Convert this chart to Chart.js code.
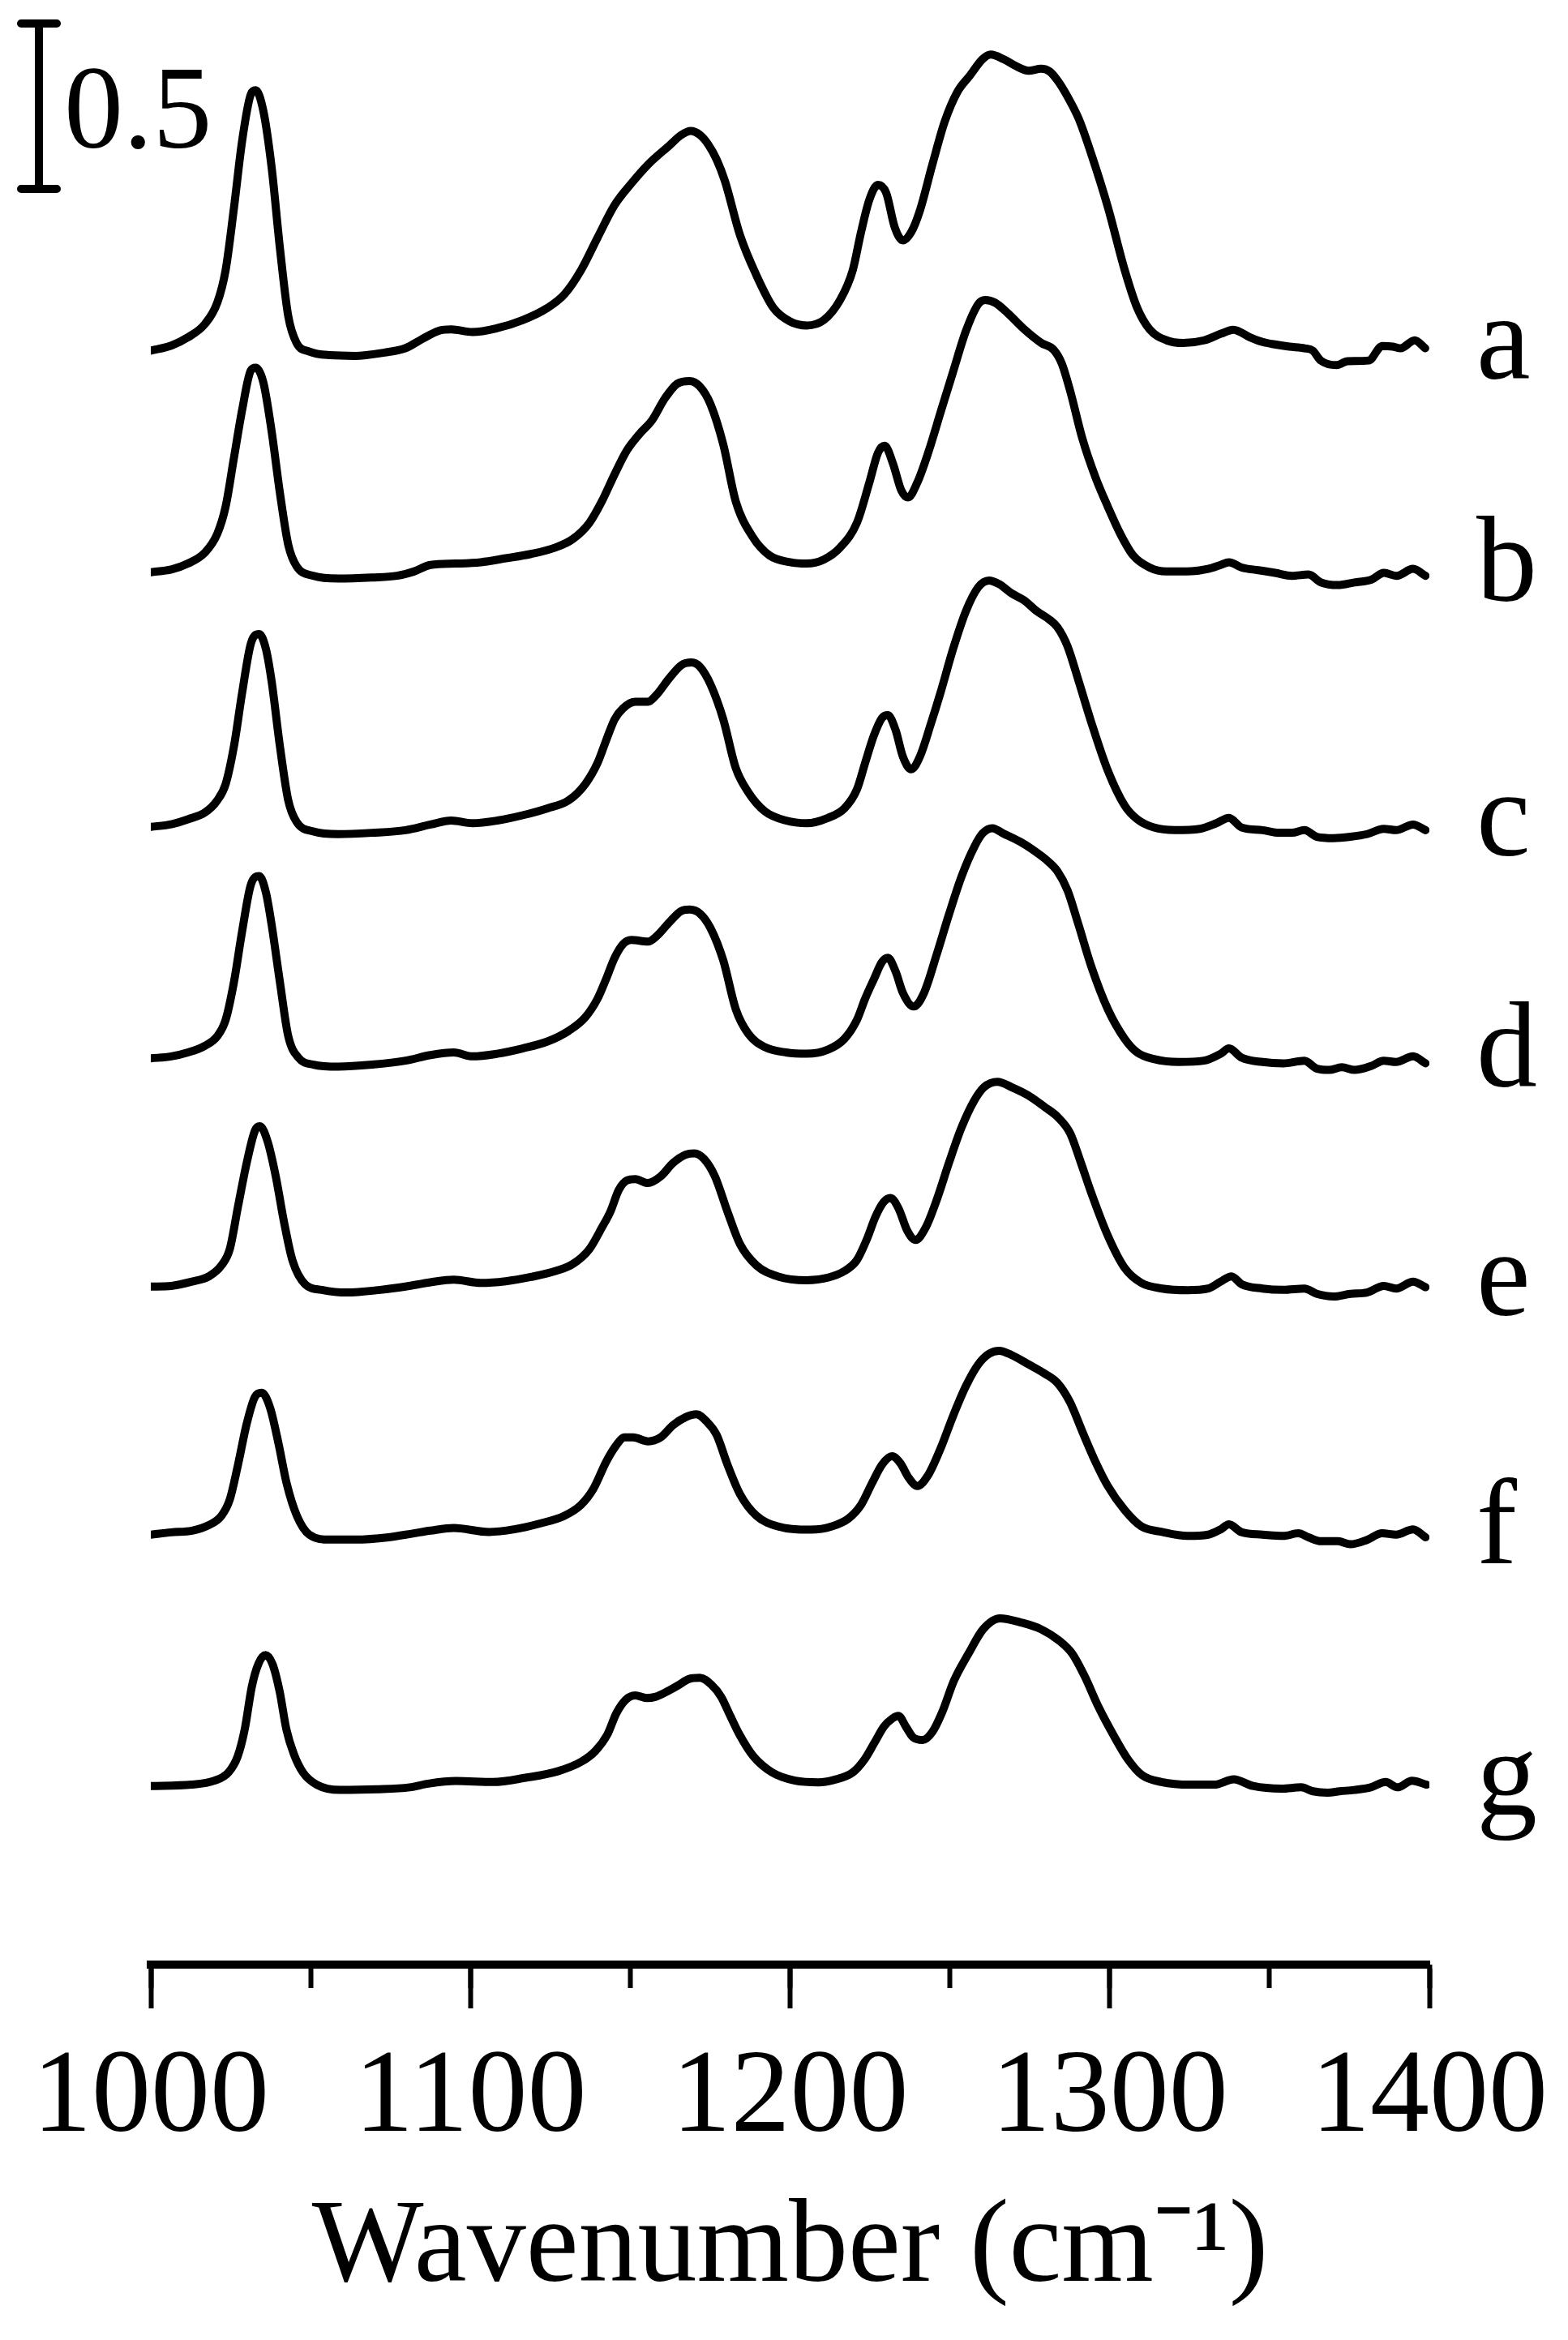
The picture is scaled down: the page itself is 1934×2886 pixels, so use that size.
<!DOCTYPE html>
<html>
<head>
<meta charset="utf-8">
<title>Wavenumber spectra a-g</title>
<script src="https://cdn.jsdelivr.net/npm/chart.js@4.4.1/dist/chart.umd.min.js"></script>
<style>
    html, body { margin: 0; padding: 0; background: #ffffff; }
    #chartBox { width: 1934px; height: 2886px; }
</style>
</head>
<body>
<div id="chartBox"><canvas id="chartCanvas"></canvas></div>
<script>
"use strict";

// Spectrum names, top to bottom
const spectrumLabels = ["a", "b", "c", "d", "e", "f", "g"];

// Stacking offsets (absorbance) for each spectrum
const spectrumOffsets = [4.88, 4.21, 3.44, 2.74, 2.05, 1.30, 0.54];

// Axis ticks
const majorTicks = [1000, 1100, 1200, 1300, 1400];
const minorTicks = [1000, 1050, 1100, 1150, 1200, 1250, 1300, 1350, 1400];

// Scale bar (absorbance units)
const scaleBarValue = 0.5;

// [wavenumber, absorbance]
const spectrumA = [
    [1000, 0], [1006.4, 0.015], [1011.6, 0.04], [1016.9, 0.08], [1020.8, 0.145], [1023.4, 0.243],
    [1026, 0.43], [1028.6, 0.636], [1031.3, 0.775], [1032.8, 0.787], [1035.2, 0.725], [1037.8, 0.554],
    [1040.4, 0.309], [1043, 0.104], [1045.6, 0.023], [1049.6, -0.003], [1056.1, -0.014], [1063.9, -0.016],
    [1073.1, -0.006], [1079.6, 0.007], [1084.9, 0.035], [1090.1, 0.06], [1094, 0.064], [1100.6, 0.056],
    [1108.4, 0.068], [1116.3, 0.092], [1124.1, 0.129], [1129.4, 0.17], [1134.6, 0.243], [1139.8, 0.342],
    [1145.1, 0.44], [1150.3, 0.505], [1155.5, 0.562], [1162.1, 0.619], [1166, 0.652], [1168.9, 0.664],
    [1171.8, 0.652], [1174.4, 0.623], [1177, 0.578], [1179.6, 0.513], [1184.3, 0.35], [1189.5, 0.227],
    [1194.8, 0.129], [1200, 0.088], [1205.2, 0.076], [1210.5, 0.092], [1215.7, 0.154], [1219.6, 0.243],
    [1222.2, 0.358], [1224.8, 0.456], [1227.5, 0.501], [1230.1, 0.476], [1232.7, 0.374], [1235.3, 0.333],
    [1237.9, 0.358], [1240.6, 0.423], [1244.5, 0.562], [1248.4, 0.693], [1252.4, 0.783], [1256.3, 0.832],
    [1260.2, 0.881], [1262.8, 0.895], [1266.8, 0.881], [1270.7, 0.86], [1274.6, 0.846], [1278.5, 0.852],
    [1281.2, 0.844], [1283.8, 0.815], [1286.9, 0.766], [1290.3, 0.701], [1294.2, 0.595], [1299.5, 0.431],
    [1304.7, 0.243], [1308.6, 0.129], [1312.5, 0.064], [1317.8, 0.031], [1323, 0.023], [1329.5, 0.031],
    [1334.8, 0.051], [1338.7, 0.063], [1343.9, 0.04], [1347.8, 0.026], [1352, 0.018], [1356.2, 0.012],
    [1361, 0.007], [1363.5, 0], [1366, -0.03], [1371, -0.044], [1374.4, -0.032], [1381, -0.03],
    [1385.3, 0.014], [1388.6, 0.012], [1391, 0.007], [1395.4, 0.031], [1398.7, 0.007]
];

const spectrumB = [
    [1000, 0], [1006.4, 0.008], [1011.6, 0.026], [1016.9, 0.059], [1020.8, 0.116], [1023.4, 0.198],
    [1026, 0.345], [1028.6, 0.492], [1031.3, 0.61], [1032.8, 0.618], [1035.2, 0.574], [1037.8, 0.426],
    [1040.4, 0.239], [1043, 0.083], [1045.6, 0.018], [1050.9, -0.011], [1058.7, -0.019], [1069.2, -0.016],
    [1077, -0.011], [1082.3, 0.002], [1087.5, 0.022], [1095.4, 0.026], [1103.2, 0.03], [1111.1, 0.042],
    [1118.9, 0.055], [1126.7, 0.075], [1132, 0.1], [1137.2, 0.149], [1141.1, 0.214], [1145.1, 0.296],
    [1149, 0.369], [1152.9, 0.418], [1156.8, 0.459], [1160.8, 0.525], [1164.7, 0.57], [1168.6, 0.578],
    [1171.7, 0.562], [1175.1, 0.508], [1179.1, 0.386], [1183, 0.214], [1188.2, 0.108], [1193.5, 0.051],
    [1200, 0.03], [1205.2, 0.026], [1210.5, 0.038], [1215.7, 0.075], [1220.9, 0.149], [1224.8, 0.271],
    [1227.5, 0.361], [1229.6, 0.382], [1232.2, 0.328], [1234.8, 0.247], [1236.9, 0.226], [1239.8, 0.271],
    [1243.2, 0.361], [1247.1, 0.484], [1251, 0.606], [1255, 0.729], [1258.9, 0.811], [1261, 0.823],
    [1264.1, 0.815], [1268.1, 0.783], [1273.3, 0.734], [1278.6, 0.693], [1282.5, 0.672], [1285, 0.631],
    [1287.6, 0.549], [1291.5, 0.402], [1295.5, 0.288], [1299.4, 0.198], [1303.3, 0.116], [1307.3, 0.051],
    [1312.5, 0.014], [1317.7, 0.002], [1325.6, 0.003], [1330.8, 0.01], [1334.7, 0.022], [1337.3, 0.03],
    [1341.3, 0.014], [1346.5, 0.006], [1351.7, -0.002], [1357, -0.011], [1362.2, -0.007], [1366.1, -0.031],
    [1371.4, -0.039], [1376.6, -0.031], [1381.8, -0.023], [1385.8, -0.002], [1389.7, -0.011],
    [1394.9, 0.01], [1398.8, -0.011]
];

const spectrumC = [
    [1000, 0], [1006.4, 0.008], [1011.6, 0.023], [1016.9, 0.043], [1020.8, 0.08], [1023.4, 0.129],
    [1026, 0.243], [1028.6, 0.407], [1031.3, 0.554], [1033.9, 0.583], [1036, 0.538], [1037.8, 0.44],
    [1040.4, 0.243], [1043, 0.08], [1045.6, 0.015], [1050.9, -0.014], [1058.7, -0.022], [1069.2, -0.018],
    [1079.7, -0.01], [1087.5, 0.007], [1094, 0.019], [1100.6, 0.011], [1108.4, 0.019], [1116.3, 0.035],
    [1124.1, 0.056], [1130.7, 0.08], [1135.9, 0.129], [1139.8, 0.194], [1142.4, 0.26], [1145.1, 0.325],
    [1147.7, 0.358], [1151.6, 0.378], [1155.5, 0.378], [1158.2, 0.399], [1162.1, 0.448], [1166, 0.489],
    [1169.2, 0.497], [1171.8, 0.484], [1175.1, 0.431], [1179.1, 0.325], [1183, 0.178], [1186.9, 0.105],
    [1192.1, 0.047], [1198.7, 0.019], [1205.2, 0.011], [1211.8, 0.027], [1217, 0.056], [1220.9, 0.113],
    [1223.5, 0.194], [1226.2, 0.276], [1228.8, 0.33], [1230.6, 0.338], [1233, 0.293], [1235.3, 0.212],
    [1237.9, 0.174], [1240.6, 0.212], [1244, 0.31], [1247.1, 0.407], [1251, 0.538], [1255, 0.652],
    [1258.9, 0.725], [1262.2, 0.745], [1265.4, 0.734], [1269.3, 0.706], [1273.2, 0.685], [1277.2, 0.652],
    [1281.1, 0.627], [1283.7, 0.603], [1286.8, 0.546], [1290.3, 0.44], [1294.2, 0.317], [1299.4, 0.17],
    [1304.7, 0.064], [1308.6, 0.023], [1313.8, -0.002], [1320.4, -0.01], [1328.2, -0.006], [1333.4, 0.011],
    [1337.3, 0.027], [1341.3, -0.002], [1347.8, -0.01], [1353, -0.018], [1357, -0.018], [1360.9, -0.01],
    [1364.8, -0.03], [1370, -0.034], [1375.3, -0.03], [1380.5, -0.022], [1385.7, -0.006], [1389.6, -0.01],
    [1394.9, 0.007], [1398.8, -0.01]
];

const spectrumD = [
    [1000, 0], [1006.4, 0.006], [1011.6, 0.018], [1016.9, 0.038], [1020.8, 0.067], [1023.4, 0.116],
    [1026, 0.23], [1028.6, 0.386], [1031.3, 0.525], [1033.9, 0.551], [1036, 0.502], [1037.8, 0.404],
    [1040.4, 0.23], [1043, 0.067], [1046.2, 0.002], [1050.9, -0.019], [1058.7, -0.025], [1069.2, -0.019],
    [1079.7, -0.007], [1087.5, 0.01], [1094.8, 0.018], [1100.6, 0.006], [1108.4, 0.014], [1116.3, 0.03],
    [1124.1, 0.051], [1130.7, 0.083], [1135.9, 0.124], [1139.8, 0.181], [1142.4, 0.239], [1145.1, 0.304],
    [1147.7, 0.345], [1150.3, 0.358], [1155.5, 0.353], [1158.2, 0.369], [1162.1, 0.41], [1166, 0.446],
    [1168.6, 0.45], [1171.8, 0.438], [1175.1, 0.394], [1179.1, 0.296], [1183, 0.149], [1186.9, 0.075],
    [1192.1, 0.034], [1198.7, 0.018], [1205.2, 0.014], [1211.8, 0.026], [1217, 0.059], [1220.9, 0.116],
    [1223.5, 0.181], [1226.2, 0.239], [1228.8, 0.292], [1230.6, 0.304], [1233, 0.263], [1235.3, 0.198],
    [1238.7, 0.157], [1241.9, 0.198], [1245.8, 0.312], [1249.7, 0.435], [1253.6, 0.549], [1257.6, 0.639],
    [1260.2, 0.68], [1263.3, 0.696], [1266.7, 0.68], [1272, 0.655], [1275.9, 0.631], [1279.8, 0.603],
    [1283.7, 0.565], [1286.8, 0.508], [1290.3, 0.402], [1294.2, 0.279], [1299.4, 0.149], [1304.7, 0.059],
    [1308.6, 0.018], [1313.8, -0.002], [1321.6, -0.011], [1329.5, -0.007], [1334.7, 0.014], [1337.3, 0.03],
    [1341.3, 0.002], [1347.8, -0.011], [1354.3, -0.015], [1360.9, -0.007], [1364.8, -0.031], [1368.7, -0.035],
    [1372.6, -0.027], [1376.6, -0.035], [1381.8, -0.023], [1385.7, -0.007], [1389.6, -0.011],
    [1394.9, 0.006], [1398.8, -0.015]
];

const spectrumE = [
    [1000, 0], [1006.4, 0.002], [1012.9, 0.015], [1018.2, 0.031], [1022.1, 0.064], [1024.7, 0.113],
    [1027.3, 0.243], [1030, 0.374], [1032.6, 0.472], [1034.1, 0.485], [1036.5, 0.44], [1039.1, 0.333],
    [1041.7, 0.194], [1044.3, 0.08], [1048.3, 0.007], [1053.5, -0.01], [1061.3, -0.018], [1071.8, -0.01],
    [1079.7, 0], [1087.5, 0.013], [1094.8, 0.021], [1103.2, 0.011], [1111, 0.016], [1118.9, 0.029],
    [1126.7, 0.047], [1132, 0.068], [1137.2, 0.113], [1141.1, 0.178], [1143.8, 0.227], [1146.4, 0.292],
    [1149, 0.321], [1151.6, 0.325], [1155.5, 0.313], [1159.5, 0.333], [1163.4, 0.374], [1167.3, 0.399],
    [1170, 0.403], [1173.1, 0.386], [1176.5, 0.333], [1180.4, 0.227], [1184.3, 0.129], [1189.5, 0.064],
    [1196.1, 0.031], [1205.2, 0.019], [1211.8, 0.027], [1217, 0.047], [1220.9, 0.08], [1224.1, 0.145],
    [1226.7, 0.211], [1229.3, 0.256], [1231.4, 0.268], [1234, 0.235], [1236.6, 0.17], [1239.2, 0.141],
    [1242.4, 0.178], [1245.8, 0.26], [1249.7, 0.374], [1253.6, 0.48], [1257.6, 0.562], [1260.7, 0.603],
    [1264.9, 0.619], [1269.3, 0.603], [1274.5, 0.578], [1279.8, 0.542], [1283.7, 0.513], [1287.6, 0.464],
    [1291, 0.374], [1294.2, 0.284], [1299.4, 0.154], [1304.7, 0.056], [1309.9, 0.011], [1316.4, -0.006],
    [1324.3, -0.011], [1330.8, -0.006], [1334.7, 0.015], [1338.1, 0.031], [1341.3, 0.007], [1347.8, -0.006],
    [1354.3, -0.01], [1360.9, -0.006], [1364.8, -0.022], [1370, -0.03], [1375.3, -0.022], [1380.5, -0.018],
    [1385.7, 0.002], [1389.6, -0.006], [1394.9, 0.015], [1398.8, -0.002]
];

const spectrumF = [
    [1000, 0], [1006.4, 0.007], [1012.9, 0.012], [1018.2, 0.029], [1022.1, 0.057], [1024.7, 0.106],
    [1027.3, 0.212], [1030, 0.335], [1032.6, 0.417], [1034.7, 0.429], [1037.3, 0.384], [1039.9, 0.278],
    [1042.5, 0.155], [1045.7, 0.057], [1049.6, 0], [1056.1, -0.015], [1064, -0.015], [1074.4, -0.008],
    [1082.3, 0.004], [1087.5, 0.012], [1094.8, 0.02], [1105.8, 0.008], [1113.7, 0.016], [1121.5, 0.033],
    [1129.4, 0.057], [1134.6, 0.09], [1138.5, 0.139], [1142.5, 0.221], [1145.6, 0.27], [1148.2, 0.294],
    [1150.9, 0.294], [1155.6, 0.282], [1159.5, 0.294], [1163.4, 0.331], [1167.3, 0.355], [1170.7, 0.364],
    [1173.8, 0.343], [1177, 0.302], [1180.4, 0.212], [1184.3, 0.123], [1189.5, 0.057], [1196.1, 0.025],
    [1206.5, 0.015], [1213.1, 0.025], [1218.3, 0.049], [1222.2, 0.09], [1225.6, 0.155], [1228.8, 0.212],
    [1231.9, 0.237], [1234.5, 0.216], [1237.1, 0.172], [1239.8, 0.147], [1243.2, 0.18], [1247.1, 0.261],
    [1251, 0.359], [1255, 0.449], [1258.9, 0.515], [1262.3, 0.547], [1265.4, 0.556], [1269.3, 0.543],
    [1274.6, 0.515], [1279.8, 0.486], [1283.7, 0.458], [1287.6, 0.4], [1291.5, 0.31], [1295.5, 0.221],
    [1299.4, 0.147], [1304.7, 0.074], [1309.9, 0.025], [1316.4, 0.008], [1324.3, -0.004], [1330.8, 0],
    [1334.7, 0.016], [1337.3, 0.031], [1341.3, 0.007], [1347.8, 0], [1354.3, -0.004], [1359, 0.004],
    [1362.2, -0.008], [1366.1, -0.02], [1371.4, -0.02], [1375.3, -0.029], [1380.5, -0.016], [1385.2, 0.004],
    [1389.6, 0], [1394.9, 0.016], [1398.8, -0.008]
];

const spectrumG = [
    [1000, 0], [1012.7, 0.004], [1019.9, 0.016], [1024.3, 0.041], [1027.2, 0.09], [1029.4, 0.172],
    [1031.6, 0.3], [1033.7, 0.37], [1035.9, 0.396], [1038.1, 0.368], [1040.3, 0.286], [1042.4, 0.172],
    [1044.7, 0.098], [1047.6, 0.041], [1051.9, 0.004], [1059.2, -0.012], [1070.8, -0.01], [1081, -0.004],
    [1086.8, 0.007], [1095.5, 0.015], [1107.1, 0.012], [1117.3, 0.025], [1127.5, 0.045], [1134.8, 0.074],
    [1139.1, 0.106], [1142.8, 0.155], [1145.7, 0.221], [1148.6, 0.261], [1151.5, 0.274], [1155.1, 0.266],
    [1158, 0.27], [1161.6, 0.286], [1165.3, 0.306], [1168.2, 0.323], [1171.8, 0.327], [1175.4, 0.306],
    [1178.4, 0.27], [1181.3, 0.212], [1184.2, 0.155], [1188.5, 0.09], [1194.4, 0.041], [1201.6, 0.016],
    [1208.9, 0.011], [1213.6, 0.018], [1219.6, 0.041], [1223.4, 0.082], [1226.4, 0.131], [1229.4, 0.18],
    [1232, 0.204], [1233.9, 0.212], [1236.2, 0.18], [1238.5, 0.147], [1241.5, 0.139], [1244.5, 0.163],
    [1247.5, 0.221], [1251.3, 0.319], [1255.8, 0.4], [1260.4, 0.474], [1265.6, 0.507], [1272.4, 0.494],
    [1278.5, 0.474], [1284.5, 0.437], [1288.3, 0.4], [1292, 0.335], [1296.6, 0.237], [1301.1, 0.155],
    [1305.6, 0.082], [1310.1, 0.033], [1316.2, 0.012], [1325.2, 0.004], [1332.7, 0.004], [1338.8, 0.02],
    [1344.8, 0], [1353.8, -0.008], [1359.9, -0.004], [1363.6, -0.016], [1368.2, -0.02], [1371.9, -0.016],
    [1376.5, -0.012], [1381.7, -0.004], [1386.3, 0.012], [1390, -0.004], [1394.6, 0.016], [1399.1, 0.004]
];

const spectra = [spectrumA, spectrumB, spectrumC, spectrumD, spectrumE, spectrumF, spectrumG];

const serifFont = "'Liberation Serif', 'Times New Roman', serif";

// Build one line dataset per spectrum, shifted by its offset
const datasets = spectra.map((spec, i) => ({
    label: spectrumLabels[i],
    data: spec.map((p) => ({x: p[0], y: p[1] + spectrumOffsets[i]})),
    borderColor: "#000000",
    borderWidth: 10,
    borderJoinStyle: "round",
    borderCapStyle: "round",
    pointRadius: 0,
    fill: false,
    cubicInterpolationMode: "monotone"
}));

// Draws the curve letters and the 0.5 scale bar
const annotationPlugin = {
    id: "spectrumAnnotations",
    afterDatasetsDraw(chart) {
        const c = chart.ctx;
        const yScale = chart.scales.y;
        const area = chart.chartArea;

        c.save();
        c.fillStyle = "#000000";
        c.strokeStyle = "#000000";
        c.textAlign = "left";
        c.textBaseline = "alphabetic";

        // Letters next to each trace
        c.font = "150px " + serifFont;
        spectrumLabels.forEach((lbl, i) => {
            const yPix = yScale.getPixelForValue(spectrumOffsets[i]);
            c.fillText(lbl, area.right + 58, yPix + 35);
        });

        // Scale bar, its length taken from the y scale
        const barLen = yScale.getPixelForValue(0) - yScale.getPixelForValue(scaleBarValue);
        const barX = 48;
        const barTop = 29;
        c.lineWidth = 10;
        c.lineCap = "round";
        c.beginPath();
        c.moveTo(barX, barTop);
        c.lineTo(barX, barTop + barLen);
        c.moveTo(barX - 22, barTop);
        c.lineTo(barX + 22, barTop);
        c.moveTo(barX - 22, barTop + barLen);
        c.lineTo(barX + 22, barTop + barLen);
        c.stroke();

        c.font = "146px " + serifFont;
        c.fillText(String(scaleBarValue), 79, 182);
        c.restore();
    }
};

const config = {
    type: "line",
    data: {datasets: datasets},
    plugins: [annotationPlugin],
    options: {
        responsive: true,
        maintainAspectRatio: false,
        animation: false,
        layout: {padding: {left: 186, right: 164, top: 0, bottom: 0}},
        plugins: {
            legend: {display: false},
            tooltip: {enabled: false}
        },
        scales: {
            y: {
                type: "linear",
                display: false,
                min: 0,
                max: 5.94
            },
            // Short minor ticks every 50 cm-1
            xMinor: {
                type: "linear",
                position: "bottom",
                axis: "x",
                weight: 0,
                min: 1000,
                max: 1400,
                afterBuildTicks: (scale) => { scale.ticks = minorTicks.map((v) => ({value: v})); },
                afterFit: (scale) => { scale.height = 0; },
                border: {display: false},
                grid: {drawOnChartArea: false, drawTicks: true, tickLength: 29, tickWidth: 6, tickColor: "#000000"},
                ticks: {display: false}
            },
            x: {
                type: "linear",
                position: "bottom",
                weight: 1,
                min: 1000,
                max: 1400,
                afterBuildTicks: (scale) => { scale.ticks = majorTicks.map((v) => ({value: v})); },
                afterFit: (scale) => { scale.height = 463; },
                border: {display: true, width: 10, color: "#000000"},
                grid: {drawOnChartArea: false, drawTicks: true, tickLength: 54, tickWidth: 6, tickColor: "#000000"},
                ticks: {
                    autoSkip: false,
                    maxRotation: 0,
                    padding: 25,
                    color: "#000000",
                    font: {family: serifFont, size: 146},
                    callback: (value) => String(value)
                },
                title: {
                    display: true,
                    text: "Wavenumber (cm\u207B\u00B9)",
                    color: "#000000",
                    font: {family: serifFont, size: 146},
                    padding: {top: 0, bottom: 24}
                }
            }
        }
    }
};

const ctx = document.getElementById("chartCanvas").getContext("2d");
const chart = new Chart(ctx, config);
</script>
</body>
</html>
